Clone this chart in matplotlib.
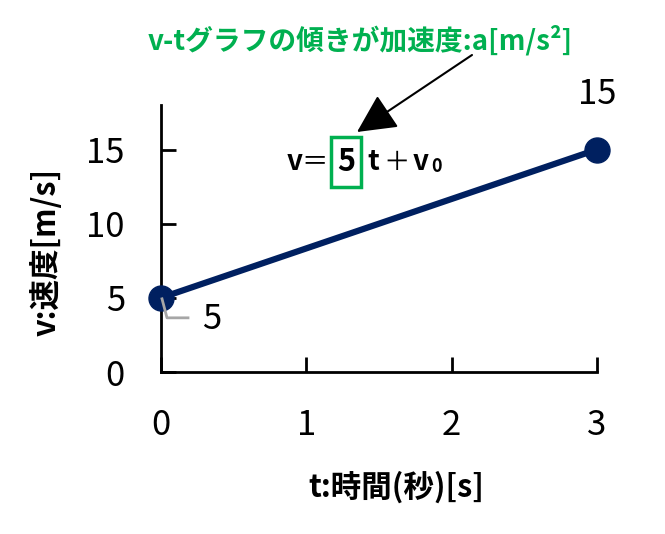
import matplotlib
matplotlib.use("Agg")
import matplotlib.pyplot as plt
from matplotlib.patches import Rectangle

plt.rcParams['font.family'] = ['Noto Sans CJK JP', 'DejaVu Sans']

# data
t_values = [0, 3]
v_values = [5, 15]
x_ticks = [0, 1, 2, 3]
y_ticks = [0, 5, 10, 15]
x_label = "t:時間(秒)[s]"
y_label = "v:速度[m/s]"
title_note = "v-tグラフの傾きが加速度:a[m/s²]"
slope_text = "5"

W, H = 665, 534
fig = plt.figure(figsize=(W / 100, H / 100), dpi=100)

def fx(x):
    return x / W

def fy(y):
    return 1 - y / H

ax = fig.add_axes([fx(161), fy(372), fx(597) - fx(161), fy(105) - fy(372)])
ax.set_xlim(0, 3)
ax.set_ylim(0, 18)
ax.set_xticks(x_ticks)
ax.set_yticks(y_ticks)
ax.tick_params(direction='in', length=11, width=2, labelsize=25, pad=26)
for s in ['top', 'right']:
    ax.spines[s].set_visible(False)
for s in ['left', 'bottom']:
    ax.spines[s].set_linewidth(2)

ax.plot(t_values, v_values, color='#002060', lw=4.5, marker='o', ms=18,
        markerfacecolor='#002060', markeredgecolor='#002060', clip_on=False, zorder=5)

# data labels
ax.annotate(str(v_values[1]), xy=(t_values[1], v_values[1]), xytext=(0, 55),
            textcoords='offset pixels', ha='center', va='center', fontsize=25)
ax.annotate(str(v_values[0]), xy=(t_values[0], v_values[0]), xytext=(51, -22),
            textcoords='offset pixels', ha='center', va='center', fontsize=25)
# grey leader line
x0, y0 = ax.transData.transform((t_values[0], v_values[0]))
fig.lines.append(plt.Line2D([fx(x0 + 1), fx(x0 + 6), fx(x0 + 27)],
                            [(y0 - 1) / H, (y0 - 20) / H, (y0 - 20) / H],
                            color='#A6A6A6', lw=2, transform=fig.transFigure, zorder=6))

ax.set_xlabel(x_label, fontsize=22, fontweight='bold')
ax.xaxis.set_label_coords(0.54, -0.37)
ax.set_ylabel(y_label, fontsize=22, fontweight='bold')
ax.yaxis.set_label_coords(-0.225, 0.45)

# equation
eq_y = fy(162)
fig.text(fx(287), eq_y, "v", fontsize=20, fontweight='bold', ha='left', va='center')
fig.text(fx(315), eq_y, "＝", fontsize=19, ha='center', va='center')
fig.text(fx(346), eq_y, slope_text, fontsize=22, fontweight='bold', ha='center', va='center')
fig.text(fx(367), eq_y, "t", fontsize=20, fontweight='bold', ha='left', va='center')
fig.text(fx(397), eq_y, "＋", fontsize=19, ha='center', va='center')
fig.text(fx(413), eq_y, "v", fontsize=20, fontweight='bold', ha='left', va='center')
fig.text(fx(431), fy(166), "0", fontsize=13, fontweight='bold', ha='left', va='center')
fig.patches.append(Rectangle((fx(331), fy(187)), fx(361) - fx(331), fy(137) - fy(187),
                             fill=False, ec='#00B050', lw=2.5, transform=fig.transFigure))

# green note with arrow
fig.text(fx(360), fy(40), title_note, fontsize=20, fontweight='bold', color='#00B050',
         ha='center', va='center')
fig.add_artist(matplotlib.patches.FancyArrowPatch(
    (fx(472), fy(55)), (fx(357), fy(132)), transform=fig.transFigure,
    arrowstyle='-|>,head_length=1.1,head_width=0.55', mutation_scale=22,
    color='black', lw=1.5, shrinkA=0, shrinkB=0))

fig.savefig("out.png", dpi=100)
